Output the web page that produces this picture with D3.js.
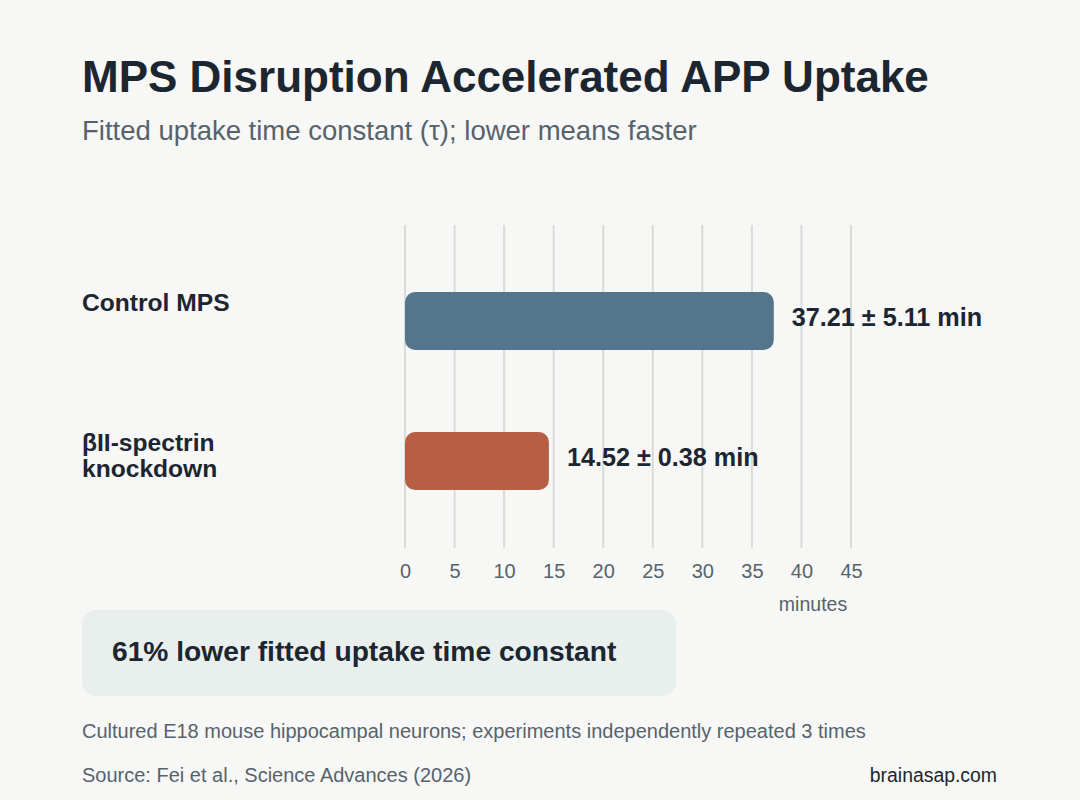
<!DOCTYPE html>
<html>
<head>
<meta charset="utf-8">
<script src="https://cdn.jsdelivr.net/npm/d3@7"></script>
<style>
  body { margin: 0; background: #f7f7f5; }
  svg { display: block; font-family: "Liberation Sans", Arial, sans-serif; }
</style>
</head>
<body>
<svg id="chart" width="1080" height="800"></svg>
<script>
// ---------------- data ----------------
const groups = ["Control MPS", "βII-spectrin knockdown"];
const groupLines = [["Control MPS"], ["βII-spectrin", "knockdown"]];
const tauMean = [37.21, 14.52];
const tauSem = [5.11, 0.38];
const barColors = ["#55758c", "#b65f45"];
const xTicks = [0, 5, 10, 15, 20, 25, 30, 35, 40, 45];

const ink = "#1b2631";
const muted = "#56636d";

var svg = d3.select("#chart");

svg.append("rect")
    .attr("width", 1080).attr("height", 800)
    .attr("fill", "#f7f7f5");

// title block
svg.append("text")
    .attr("x", 82).attr("y", 92)
    .attr("font-size", 44).attr("font-weight", "bold")
    .attr("fill", ink)
    .text("MPS Disruption Accelerated APP Uptake");

svg.append("text")
    .attr("x", 82).attr("y", 140)
    .attr("font-size", 27.5)
    .attr("fill", muted)
    .text("Fitted uptake time constant (τ); lower means faster");

// scales
var x = d3.scaleLinear().domain([0, 45]).range([405, 851]);
var y = d3.scaleBand().domain(groups)
    .range([229, 553])
    .paddingInner(0.586).paddingOuter(0.45);

// grid
var grid = svg.append("g").attr("class", "grid");
grid.selectAll("line")
  .data(xTicks)
  .enter().append("line")
    .attr("x1", d => x(d)).attr("x2", d => x(d))
    .attr("y1", 225).attr("y2", 548)
    .attr("stroke", "#d6ddd9")
    .attr("stroke-width", 2);

// axis
var axis = svg.append("g")
    .attr("transform", "translate(0,548)")
    .call(d3.axisBottom(x).tickValues(xTicks).tickSize(0).tickPadding(16));
axis.select(".domain").remove();
axis.selectAll("text")
    .attr("font-family", "Liberation Sans, Arial, sans-serif")
    .attr("font-size", 20)
    .attr("fill", muted);

svg.append("text")
    .attr("x", 813).attr("y", 611)
    .attr("text-anchor", "middle")
    .attr("font-size", 19.5)
    .attr("fill", muted)
    .text("minutes");

// bars
var rows = groups.map((g, i) => ({ name: g, lines: groupLines[i], mean: tauMean[i], sem: tauSem[i], color: barColors[i] }));

svg.selectAll(".bar")
  .data(rows)
  .enter().append("rect")
    .attr("class", "bar")
    .attr("x", x(0))
    .attr("y", d => y(d.name))
    .attr("width", d => x(d.mean) - x(0))
    .attr("height", y.bandwidth())
    .attr("rx", 10)
    .attr("fill", d => d.color);

// value labels
svg.selectAll(".val")
  .data(rows)
  .enter().append("text")
    .attr("class", "val")
    .attr("x", d => x(d.mean) + 18)
    .attr("y", d => y(d.name) + y.bandwidth() / 2 + 5)
    .attr("font-size", 25.2).attr("font-weight", "bold")
    .attr("fill", ink)
    .text(d => d.mean.toFixed(2) + " ± " + d.sem.toFixed(2) + " min");

// category labels
var cat = svg.selectAll(".cat")
  .data(rows)
  .enter().append("text")
    .attr("class", "cat")
    .attr("x", 82)
    .attr("y", d => y(d.name) + y.bandwidth() / 2 - 10)
    .attr("font-size", 24.6).attr("font-weight", "bold")
    .attr("fill", ink);
cat.selectAll("tspan")
  .data(d => d.lines)
  .enter().append("tspan")
    .attr("x", 82)
    .attr("dy", (d, i) => i === 0 ? 0 : 26)
    .text(d => d);

// callout
svg.append("rect")
    .attr("x", 82).attr("y", 610)
    .attr("width", 594).attr("height", 86)
    .attr("rx", 14)
    .attr("fill", "#e9efed");

var pct = Math.round((1 - tauMean[1] / tauMean[0]) * 100);
svg.append("text")
    .attr("x", 112).attr("y", 661)
    .attr("font-size", 28.2).attr("font-weight", "bold")
    .attr("fill", ink)
    .text(pct + "% lower fitted uptake time constant");

// footer
svg.append("text")
    .attr("x", 82).attr("y", 738)
    .attr("font-size", 20)
    .attr("fill", muted)
    .text("Cultured E18 mouse hippocampal neurons; experiments independently repeated 3 times");

svg.append("text")
    .attr("x", 82).attr("y", 782)
    .attr("font-size", 20)
    .attr("fill", muted)
    .text("Source: Fei et al., Science Advances (2026)");

svg.append("text")
    .attr("x", 997).attr("y", 782)
    .attr("text-anchor", "end")
    .attr("font-size", 19.4)
    .attr("fill", ink)
    .text("brainasap.com");
</script>
</body>
</html>
